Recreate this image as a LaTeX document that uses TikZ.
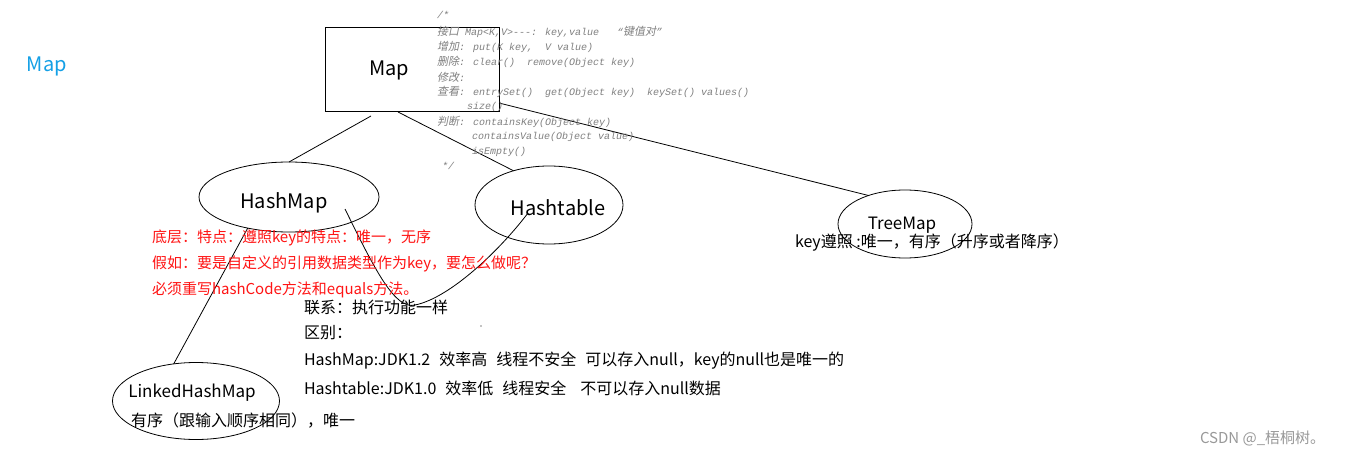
\documentclass[tikz,border=0pt]{standalone}
\usepackage{fontspec}
\setmainfont{Noto Sans CJK SC}
\newfontfamily\cjkit[FakeSlant=0.2]{Noto Sans CJK SC}
\newfontfamily\cmono{Liberation Mono}
\usetikzlibrary{shapes.geometric}
\definecolor{mapblue}{RGB}{20,160,230}
\definecolor{cmgray}{RGB}{128,128,128}
\definecolor{redtxt}{RGB}{255,20,20}
\newcommand\cjkc[1]{{\cjkit\fontsize{11}{12}\selectfont #1}}
\begin{document}
\begin{tikzpicture}[x=1pt,y=-1pt,
  every node/.style={inner sep=0pt,outer sep=0pt},
  ell/.style={draw,ellipse,line width=0.8pt},
  conn/.style={line width=0.8pt},
  lblbig/.style={font=\fontsize{20}{24}\selectfont},
  lblmid/.style={font=\fontsize{17}{20}\selectfont},
  redtext/.style={font=\fontsize{15}{18}\selectfont,text=redtxt,anchor=west},
  blacktext/.style={font=\fontsize{16}{19}\selectfont,anchor=west},
  cmtext/.style={font=\fontsize{10}{12}\cmono\itshape,text=cmgray,anchor=west}]
\useasboundingbox (0,0) rectangle (1359,457);
\fill[white] (0,0) rectangle (1359,457);

% Map box
\node[draw,line width=0.9pt,minimum width=174pt,minimum height=84pt] (mapbox) at (412,69) {};
\node[lblbig] (maplbl) at (389,70) {Map};
\node[lblbig,text=mapblue,anchor=west] (title) at (27,66) {Map};

% ellipses
\node[ell,minimum width=180pt,minimum height=70pt] (hm) at (289,197) {};
\node[lblbig] (hmt) at (284,203) {HashMap};
\node[ell,minimum width=148pt,minimum height=78pt] (ht) at (549,205) {};
\node[lblbig] (htt) at (558,208) {Hashtable};
\node[ell,minimum width=134pt,minimum height=68pt] (tm) at (905,224) {};
\node[lblmid] (tmt) at (902,225) {TreeMap};
\node[ell,minimum width=167pt,minimum height=77pt] (lhm) at (196,401) {};
\node[lblmid] (lhmt) at (192,393) {LinkedHashMap};

% connectors
\coordinate (m1) at (371,116);
\coordinate (m2) at (398,112);
\coordinate (m3) at (499,103);
\coordinate (c1) at (345,209);
\coordinate (c2) at (528,213);
\draw[conn] (m1) -- (hm.north);
\draw[conn] (m2) -- (ht.136);
\draw[conn] (m3) -- (tm.142);
\draw[conn] (hm.217) -- (lhm.121);
\draw[conn] (c1) .. controls (375,270) and (395,310) .. (415,305) .. controls (450,298) and (500,250) .. (c2);

% comment block
\node[cmtext] (k0) at (437,15) {/*};
\node[cmtext] (k1) at (437,32) {\cjkc{接口} Map<K,V>-{}-{}-: key,value\ \ \ “\cjkc{键值对}”};
\node[cmtext] (k2) at (437,47) {\cjkc{增加}: put(K key,\ \ V value)};
\node[cmtext] (k3) at (437,62) {\cjkc{删除}: clear()\ \ remove(Object key)};
\node[cmtext] (k4) at (437,77) {\cjkc{修改}:};
\node[cmtext] (k5) at (437,92) {\cjkc{查看}: entrySet()\ \ get(Object key)\ \ keySet() values()};
\node[cmtext] (k6) at (467,107) {size()};
\node[cmtext] (k7) at (437,122) {\cjkc{判断}: containsKey(Object key)};
\node[cmtext] (k8) at (472,137) {containsValue(Object value)};
\node[cmtext] (k9) at (472,152) {isEmpty()};
\node[cmtext] (k10) at (442,166) {*/};

% red notes
\node[redtext] (r1) at (152,238) {底层：特点：遵照key的特点：唯一，无序};
\node[redtext] (r2) at (152,264) {假如：要是自定义的引用数据类型作为key，要怎么做呢？};
\node[redtext] (r3) at (152,290) {必须重写hashCode方法和equals方法。};

% black notes
\node[blacktext] (t1) at (304,307) {联系：执行功能一样};
\node[blacktext] (t2) at (304,333) {区别：};
\node[blacktext] (t3) at (304,361) {HashMap:JDK1.2\hspace{9pt}效率高\hspace{9pt}线程不安全\hspace{9pt}可以存入null，key的null也是唯一的};
\node[blacktext] (t4) at (304,388) {Hashtable:JDK1.0\hspace{9pt}效率低\hspace{9pt}线程安全\hspace{14pt}不可以存入null数据};
\node[blacktext] (t5) at (131,421) {有序（跟输入顺序相同），唯一};
\node[blacktext] (t6) at (795,243) {key遵照 :唯一，有序（升序或者降序）};

\fill (481,326) circle (0.7);

\node[font=\fontsize{15}{18}\selectfont,text=gray!80,anchor=west] (wm) at (1200,438) {CSDN @\_梧桐树。};
\end{tikzpicture}
\end{document}
